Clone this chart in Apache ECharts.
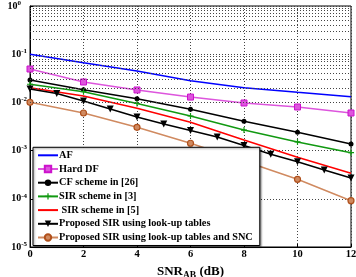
<!DOCTYPE html>
<html><head><meta charset="utf-8">
<script src="https://cdn.jsdelivr.net/npm/echarts@6/dist/echarts.min.js"></script>
<style>html,body{margin:0;padding:0;background:#fff}#c{width:356px;height:277px}</style>
</head><body><div id="c"></div>
<script>
const snrEven = [0, 2, 4, 6, 8, 10, 12];
const snrAll = [0, 1, 2, 3, 4, 5, 6, 7, 8, 9, 10, 11, 12];
const afBer = [0.100, 0.0667, 0.0448, 0.0282, 0.0202, 0.0162, 0.0131];
const hardDfBer = [0.0493, 0.0265, 0.0181, 0.0129, 0.00972, 0.00803, 0.00603];
const cfBer = [0.0292, 0.0183, 0.0119, 0.00719, 0.00406, 0.00240, 0.00137];
const sir3Ber = [0.0238, 0.0167, 0.00948, 0.00522, 0.00267, 0.00151, 0.000904];
const sir5Ber = [0.0202, 0.0136, 0.00755, 0.00386, 0.00166, 0.000726, 0.000338];
const lutBer = [0.0190, 0.0153, 0.0107, 0.00730, 0.00498, 0.00356, 0.00261, 0.00191, 0.00128, 0.000838, 0.000589, 0.000396, 0.000270];
const sncBer = [0.01004, 0.00603, 0.00304, 0.00142, 0.000608, 0.000254, 0.0000914];
const names = ['AF', 'Hard DF', 'CF scheme in [26]', 'SIR scheme in [3]', ' SIR scheme in [5]', 'Proposed SIR using look-up tables', 'Proposed SIR using look-up tables and SNC'];
const xTicks = [0, 2, 4, 6, 8, 10, 12];

const FONT = 'Liberation Serif';
const pair = (xs, ys) => xs.map((x, i) => [x, ys[i]]);
const minorLines = [];
for (let e = -5; e < 0; e++) for (let m = 2; m <= 9; m++) minorLines.push({ yAxis: m * Math.pow(10, e) });
const plus = 'path://M4,0H6V4H10V6H6V10H4V6H0V4H4Z';

const chart = echarts.init(document.getElementById('c'), null, { renderer: 'canvas' });
const base = { type: 'line', showSymbol: true, animation: false, lineStyle: { width: 1.5 } };
const legendData = names.map((n, i) => (i === 0 || i === 4) ? { name: n, itemStyle: { opacity: 0 } } : { name: n });
const gridLine = { type: [1, 2], color: '#444', width: 1 };
chart.setOption({
  animation: false,
  grid: { left: 30, right: 5, top: 6, bottom: 30, show: true, borderColor: '#000', borderWidth: 1, outerBoundsMode: 'none' },
  xAxis: {
    type: 'value', min: 0, max: 12, interval: 2,
    name: '{a|SNR}{b|AB}{a| (dB)}', nameLocation: 'middle', nameGap: 11,
    nameTextStyle: { rich: {
      a: { fontFamily: FONT, fontWeight: 'bold', fontSize: 13, color: '#000' },
      b: { fontFamily: FONT, fontWeight: 'bold', fontSize: 9.5, color: '#000', padding: [8, 0, 0, 0] } } },
    axisLine: { lineStyle: { color: '#000' } },
    axisTick: { inside: true, length: 3, lineStyle: { color: '#000' } },
    axisLabel: { fontFamily: FONT, fontWeight: 'bold', fontSize: 10.5, color: '#000', margin: 2 },
    splitLine: { show: true, lineStyle: gridLine }
  },
  yAxis: {
    type: 'log', logBase: 10, min: 1e-5, max: 1,
    name: 'BER', nameLocation: 'middle', nameGap: 29, nameRotate: 90,
    nameTextStyle: { fontFamily: FONT, fontWeight: 'bold', fontSize: 13, color: '#000' },
    axisLine: { lineStyle: { color: '#000' } },
    axisTick: { inside: true, length: 3, lineStyle: { color: '#000' } },
    axisLabel: {
      margin: 3, align: 'right',
      formatter: v => {
        const e = Math.round(Math.log10(v));
        return '{b|10}{s|' + e + '}' + (e === 0 ? '{p|}' : '');
      },
      rich: {
        b: { fontFamily: FONT, fontWeight: 'bold', fontSize: 10, color: '#000' },
        s: { fontFamily: FONT, fontWeight: 'bold', fontSize: 7, color: '#000', padding: [0, 0, 6, 0] },
        p: { width: 6 }
      }
    },
    splitLine: { show: true, lineStyle: gridLine }
  },
  legend: {
    orient: 'vertical', left: 33, top: 147.3, padding: [2, 7, 2, 4], itemGap: 1.7,
    itemWidth: 20, itemHeight: 8,
    backgroundColor: '#fff', borderColor: '#000', borderWidth: 1, borderRadius: 0,
    shadowColor: 'rgba(0,0,0,0.45)', shadowOffsetX: 1, shadowOffsetY: 1, shadowBlur: 2,
    textStyle: { fontFamily: FONT, fontWeight: 'bold', fontSize: 10.3, color: '#000', lineHeight: 12, padding: [0, 0, 0, -4] },
    data: legendData
  },
  series: [
    Object.assign({}, base, { name: names[0], data: pair(snrEven, afBer), showSymbol: false, color: '#0000ff',
      markLine: { silent: true, symbol: ['none', 'none'], label: { show: false }, animation: false,
        lineStyle: gridLine, emphasis: { disabled: true }, data: minorLines } }),
    Object.assign({}, base, { name: names[1], data: pair(snrEven, hardDfBer), symbol: 'rect', symbolSize: 6, color: '#cc11cc',
      itemStyle: { color: '#dd55dd', borderColor: '#cc11cc', borderWidth: 1 } }),
    Object.assign({}, base, { name: names[2], data: pair(snrEven, cfBer), symbol: 'circle', symbolSize: 5, color: '#000' }),
    Object.assign({}, base, { name: names[3], data: pair(snrEven, sir3Ber), symbol: plus, symbolSize: 6, color: '#119911' }),
    Object.assign({}, base, { name: names[4], data: pair(snrEven, sir5Ber), showSymbol: false, color: '#ff0000' }),
    Object.assign({}, base, { name: names[5], data: pair(snrAll, lutBer), symbol: 'triangle', symbolRotate: 180, symbolSize: 7, color: '#000' }),
    Object.assign({}, base, { name: names[6], data: pair(snrEven, sncBer), symbol: 'circle', symbolSize: 6, color: '#b0501c',
      itemStyle: { color: '#d08a60', borderColor: '#b0501c', borderWidth: 1.2 } })
  ]
});
</script>
</body></html>
